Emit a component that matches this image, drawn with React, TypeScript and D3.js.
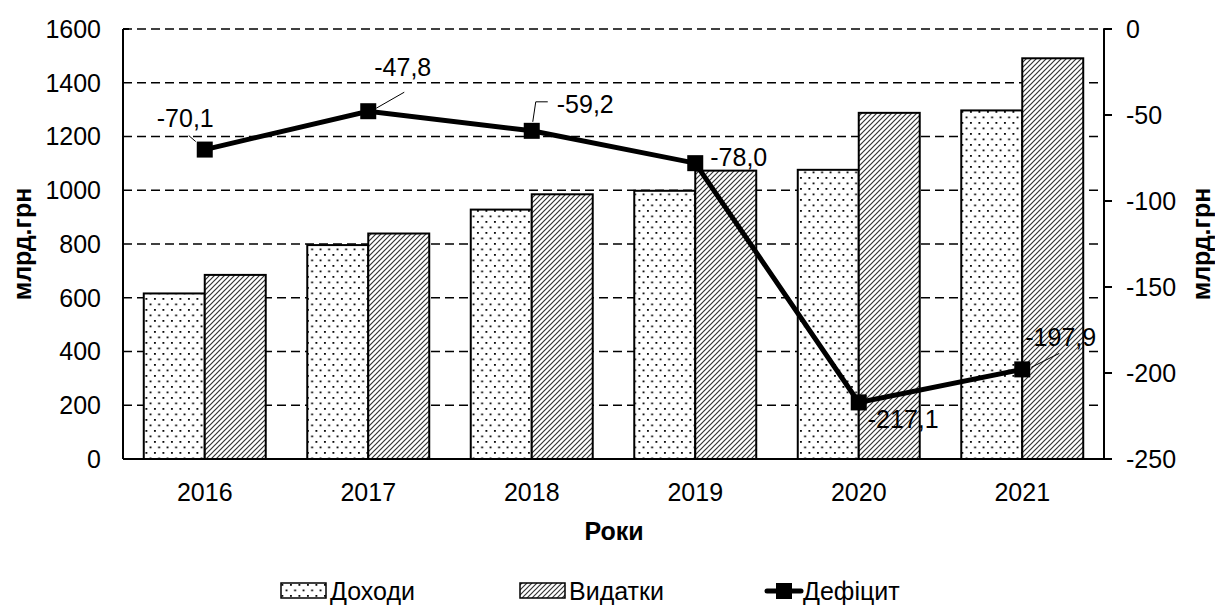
import React from "react";
import * as d3 from "d3";

const years = ["2016", "2017", "2018", "2019", "2020", "2021"];
const revenues = [616, 796, 928, 998, 1076, 1297];
const expenses = [685, 839, 985, 1073, 1288, 1491];
const deficit = [-70.1, -47.8, -59.2, -78.0, -217.1, -197.9];
const leftTicks = [0, 200, 400, 600, 800, 1000, 1200, 1400, 1600];
const rightTicks = [0, -50, -100, -150, -200, -250];
const seriesNames = ["Доходи", "Видатки", "Дефіцит"];

const W = 1215, H = 606;
const M = { left: 123, right: 1104, top: 29, bottom: 459 };
const FONT = "'Liberation Sans', Arial, sans-serif";
const FS = 25;

// label offsets (relative to point) - styles, not data
const labelPos: { dx: number; dy: number; leader: number[][] | null }[] = [
  { dx: -48, dy: -31, leader: [[-16, -14], [-9, -8]] },
  { dx: 6, dy: -44, leader: [[8, -3], [36, -19]] },
  { dx: 25, dy: -27, leader: [[1, -9], [4, -29], [16, -29]] },
  { dx: 15, dy: -6, leader: null },
  { dx: 9, dy: 17, leader: null },
  { dx: 3, dy: -32, leader: [[9, -2], [37, -16]] },
];

export default function App() {
  const x = d3.scaleBand().domain(years).range([M.left, M.right]).paddingInner(0.254).paddingOuter(0.127);
  const yL = d3.scaleLinear().domain([0, 1600]).range([M.bottom, M.top]);
  const yR = d3.scaleLinear().domain([-250, 0]).range([M.bottom, M.top]);
  const bw = x.bandwidth() / 2;
  const cx = (y: string) => (x(y) as number) + x.bandwidth() / 2;
  const line = d3.line<number>().x((_, i) => cx(years[i])).y((d) => yR(d));

  return (
    <svg width={W} height={H} style={{ display: "block", position: "absolute", left: 0, top: 0 }} fontFamily={FONT}>
      <defs>
        <pattern id="dots" width="8.5" height="11" patternUnits="userSpaceOnUse">
          <rect width="8.5" height="11" fill="white" />
          <rect x="1" y="1" width="1.8" height="1.8" fill="black" />
          <rect x="5.2" y="6.5" width="1.8" height="1.8" fill="black" />
        </pattern>
        <pattern id="hatch" width="5" height="5" patternUnits="userSpaceOnUse">
          <rect width="5" height="5" fill="white" />
          <path d="M-1,6 L6,-1 M-1,1 L1,-1 M4,6 L6,4" stroke="#333" strokeWidth="1.2" />
        </pattern>
      </defs>
      <rect width={W} height={H} fill="white" />
      {/* gridlines */}
      {leftTicks.filter((t) => t > 0).map((t) => (
        <line key={t} x1={M.left} x2={M.right} y1={yL(t)} y2={yL(t)} stroke="black" strokeWidth={1.5} strokeDasharray="9,5" />
      ))}
      {/* bars */}
      {years.map((yr, i) => (
        <g key={yr}>
          <rect x={x(yr)} y={yL(revenues[i])} width={bw} height={M.bottom - yL(revenues[i])} fill="url(#dots)" stroke="black" strokeWidth={2} />
          <rect x={(x(yr) as number) + bw} y={yL(expenses[i])} width={bw} height={M.bottom - yL(expenses[i])} fill="url(#hatch)" stroke="black" strokeWidth={2} />
        </g>
      ))}
      {/* axes */}
      <line x1={M.left} x2={M.left} y1={M.top} y2={M.bottom} stroke="black" strokeWidth={2} />
      <line x1={M.right} x2={M.right} y1={M.top} y2={M.bottom} stroke="black" strokeWidth={2} />
      <line x1={M.left} x2={M.right} y1={M.bottom} y2={M.bottom} stroke="black" strokeWidth={2} />
      <line x1={M.left} x2={M.left + 6} y1={M.top} y2={M.top} stroke="black" strokeWidth={2} />
      {rightTicks.map((t) => (
        <line key={t} x1={M.right} x2={M.right + 8} y1={yR(t)} y2={yR(t)} stroke="black" strokeWidth={2} />
      ))}
      {leftTicks.map((t) => (
        <text key={t} x={M.left - 22} y={yL(t)} dy="0.35em" textAnchor="end" fontSize={FS}>{t}</text>
      ))}
      {rightTicks.map((t) => (
        <text key={t} x={M.right + 22} y={yR(t)} dy="0.35em" textAnchor="start" fontSize={FS}>{t}</text>
      ))}
      {years.map((yr) => (
        <text key={yr} x={cx(yr)} y={492} dy="0.35em" textAnchor="middle" fontSize={FS}>{yr}</text>
      ))}
      <text x={614} y={531} dy="0.35em" textAnchor="middle" fontSize={FS} fontWeight="bold">Роки</text>
      <text transform={`translate(22,${244}) rotate(-90)`} textAnchor="middle" dy="0.35em" fontSize={FS} fontWeight="bold">млрд.грн</text>
      <text transform={`translate(1201,${244}) rotate(-90)`} textAnchor="middle" dy="0.35em" fontSize={FS} fontWeight="bold">млрд.грн</text>
      {/* deficit line */}
      <path d={line(deficit) as string} fill="none" stroke="black" strokeWidth={5} />
      {deficit.map((d, i) => (
        <rect key={i} x={cx(years[i]) - 8} y={yR(d) - 8} width={16} height={16} fill="black" />
      ))}
      {deficit.map((d, i) => {
        const p = labelPos[i];
        const px = cx(years[i]), py = yR(d);
        return (
          <g key={i}>
            {p.leader && (
              <polyline points={p.leader.map(([a, b]) => `${px + a},${py + b}`).join(" ")} fill="none" stroke="black" strokeWidth={1} />
            )}
            <text x={px + p.dx} y={py + p.dy} dy="0.35em" textAnchor="start" fontSize={FS}>
              {d.toFixed(1).replace(".", ",")}
            </text>
          </g>
        );
      })}
      {/* legend */}
      <g fontSize={FS}>
        <rect x={281} y={583} width={45} height={15} fill="url(#dots)" stroke="black" strokeWidth={1.5} />
        <text x={330} y={591} dy="0.35em">{seriesNames[0]}</text>
        <rect x={520} y={583} width={45} height={15} fill="url(#hatch)" stroke="black" strokeWidth={1.5} />
        <text x={569} y={591} dy="0.35em">{seriesNames[1]}</text>
        <line x1={767} x2={801} y1={591} y2={591} stroke="black" strokeWidth={5} strokeLinecap="round" />
        <rect x={776} y={583} width={16} height={16} fill="black" />
        <text x={803} y={591} dy="0.35em">{seriesNames[2]}</text>
      </g>
    </svg>
  );
}
